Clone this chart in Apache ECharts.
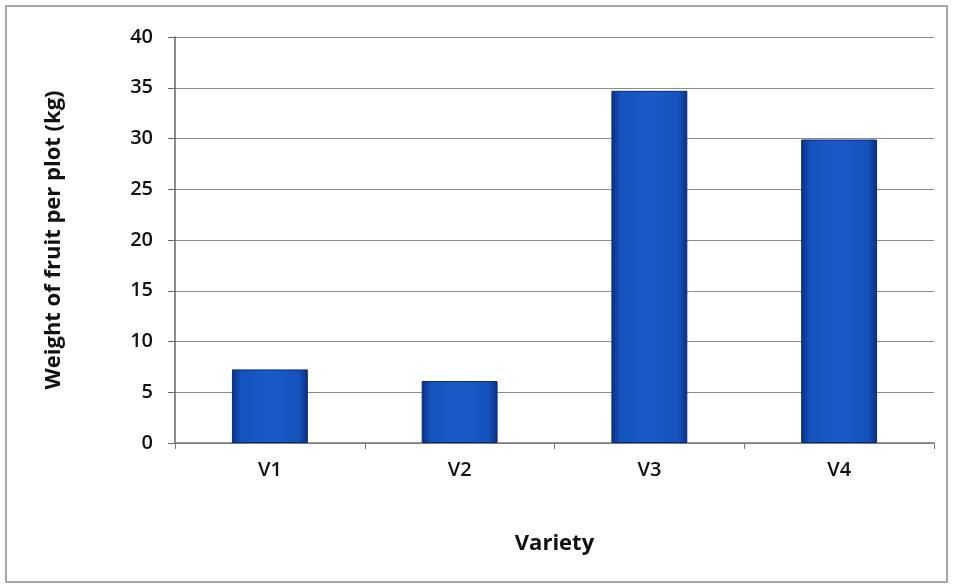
<!DOCTYPE html>
<html><head><meta charset="utf-8">
<script src="https://cdn.jsdelivr.net/npm/echarts@6/dist/echarts.min.js"></script>
<style>html,body{margin:0;padding:0;background:#fff}#c{width:953px;height:587px}</style>
</head><body><div id="c"></div>
<script>
const categories = ['V1', 'V2', 'V3', 'V4'];
const weights = [7.25, 6.1, 34.7, 29.9];
const yTicks = {min: 0, max: 40, interval: 5};
const xTitle = 'Variety';
const yTitle = 'Weight of fruit per plot (kg)';

const chart = echarts.init(document.getElementById('c'));
const font = 'Open Sans, Noto Sans, sans-serif';
chart.setOption({
  animation: false,
  backgroundColor: '#fff',
  graphic: [{type: 'rect', shape: {x: 6, y: 6, width: 941, height: 576}, style: {fill: 'none', stroke: '#8a8a8a', lineWidth: 1.5}}],
  grid: {left: 175, right: 19, top: 37, bottom: 144},
  xAxis: {
    type: 'category', data: categories,
    name: xTitle, nameLocation: 'middle', nameGap: 90,
    nameTextStyle: {fontFamily: font, fontWeight: 'bold', fontSize: 22, color: '#111'},
    axisLine: {lineStyle: {color: '#777', width: 1.5}},
    axisTick: {show: true, length: 6, lineStyle: {color: '#777'}},
    axisLabel: {fontFamily: font, fontSize: 20, fontWeight: 600, color: '#111', margin: 17}
  },
  yAxis: {
    type: 'value', min: yTicks.min, max: yTicks.max, interval: yTicks.interval,
    name: yTitle, nameLocation: 'middle', nameGap: 110, nameRotate: 90,
    nameTextStyle: {fontFamily: font, fontWeight: 'bold', fontSize: 22, color: '#111'},
    axisLine: {show: true, lineStyle: {color: '#666', width: 1.5}},
    axisTick: {show: true, length: 7, lineStyle: {color: '#666'}},
    axisLabel: {fontFamily: font, fontSize: 20, fontWeight: 600, color: '#111', margin: 22},
    splitLine: {lineStyle: {color: '#8c8c8c', width: 1.2}}
  },
  series: [{
    type: 'bar', data: weights, barWidth: '40%',
    itemStyle: {
      color: new echarts.graphic.LinearGradient(0, 0, 1, 0, [
        {offset: 0, color: '#082f86'},
        {offset: 0.12, color: '#1553bd'},
        {offset: 0.5, color: '#1a5ac8'},
        {offset: 0.88, color: '#1553bd'},
        {offset: 1, color: '#082f86'}
      ]),
      borderColor: '#082a75', borderWidth: 1
    }
  }]
});
</script></body></html>
